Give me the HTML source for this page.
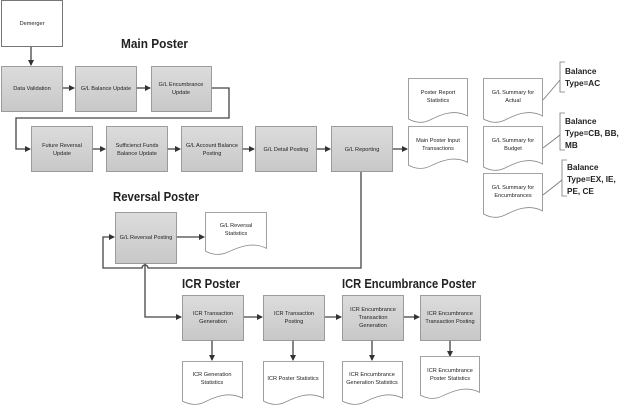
<!DOCTYPE html>
<html><head><meta charset="utf-8"><style>
html,body{margin:0;padding:0;background:#fff;width:624px;height:409px;overflow:hidden}
svg text{font-family:"Liberation Sans",sans-serif;fill:#222}
.t{font-size:5.6px;text-anchor:middle}
.h{font-size:13px;font-weight:bold}
.b{font-size:8.2px;font-weight:bold}
</style></head><body>
<svg width="624" height="409" viewBox="0 0 624 409" xmlns="http://www.w3.org/2000/svg">
<defs>
<linearGradient id="g" x1="0" y1="0" x2="0" y2="1"><stop offset="0" stop-color="#dcdcdc"/><stop offset="1" stop-color="#c8c8c8"/></linearGradient>
<marker id="a" markerWidth="6" markerHeight="6" refX="5" refY="3" orient="auto" markerUnits="userSpaceOnUse"><path d="M0,0 L6,3 L0,6 Z" fill="#333"/></marker>
<symbol id="doc" viewBox="0 0 60 46" preserveAspectRatio="none" overflow="visible"><path d="M0.5,0.5 H59.5 V38 C45,30 30,38 22,42 C14,46 6,44 0.5,41 Z" fill="#fff" stroke="#888" stroke-width="0.8" vector-effect="non-scaling-stroke"/></symbol>
</defs>
<g stroke="#444" stroke-width="1.3" fill="none">
<line x1="31" y1="46" x2="31" y2="65" marker-end="url(#a)"/>
<line x1="62" y1="88" x2="74" y2="88" marker-end="url(#a)"/>
<line x1="136" y1="88" x2="150" y2="88" marker-end="url(#a)"/>
<polyline points="211,88 229,88 229,118 16,118 16,149 30,149" marker-end="url(#a)"/>
<line x1="92" y1="149" x2="105" y2="149" marker-end="url(#a)"/>
<line x1="167" y1="149" x2="180" y2="149" marker-end="url(#a)"/>
<line x1="242" y1="149" x2="254" y2="149" marker-end="url(#a)"/>
<line x1="316" y1="149" x2="330" y2="149" marker-end="url(#a)"/>
<line x1="392" y1="149" x2="407" y2="149" marker-end="url(#a)"/>
<path d="M361,172 V268 H148 A3,3 0 0 0 142,268 H103 V237 H114" marker-end="url(#a)"/>
<line x1="176" y1="237" x2="204" y2="237" marker-end="url(#a)"/>
<polyline points="145,263 145,317 181,317" marker-end="url(#a)"/>
<line x1="243" y1="317" x2="262" y2="317" marker-end="url(#a)"/>
<line x1="324" y1="317" x2="341" y2="317" marker-end="url(#a)"/>
<line x1="403" y1="317" x2="419" y2="317" marker-end="url(#a)"/>
<line x1="212" y1="340" x2="212" y2="360" marker-end="url(#a)"/>
<line x1="293" y1="340" x2="293" y2="360" marker-end="url(#a)"/>
<line x1="372" y1="340" x2="372" y2="360" marker-end="url(#a)"/>
<line x1="450" y1="340" x2="450" y2="356" marker-end="url(#a)"/>
</g>
<g stroke="#777" stroke-width="0.8" fill="none">
<polyline points="565,62 560,62 560,92 565,92"/><line x1="543" y1="100" x2="560" y2="80"/>
<polyline points="565,113 560,113 560,150 565,150"/><line x1="543" y1="148" x2="560" y2="135"/>
<polyline points="567,160 562,160 562,196 567,196"/><line x1="543" y1="195" x2="562" y2="180"/>
</g>
<rect x="1.5" y="0.5" width="61" height="46" fill="#fff" stroke="#777"/>
<text class="t" x="32" y="25">Demerger</text>
<g fill="url(#g)" stroke="#888" stroke-width="0.8">
<rect x="1.5" y="66.5" width="61" height="45"/><rect x="75.5" y="66.5" width="61" height="45"/><rect x="151.5" y="66.5" width="60" height="45"/>
<rect x="31.5" y="126.5" width="61" height="45"/><rect x="106.5" y="126.5" width="61" height="45"/><rect x="181.5" y="126.5" width="61" height="45"/><rect x="255.5" y="126.5" width="61" height="45"/><rect x="331.5" y="126.5" width="61" height="45"/>
<rect x="115.5" y="212.5" width="61" height="51"/>
<rect x="182.5" y="295.5" width="61" height="45"/><rect x="263.5" y="295.5" width="61" height="45"/><rect x="342.5" y="295.5" width="61" height="45"/><rect x="420.5" y="295.5" width="60" height="45"/>
</g>
<use href="#doc" x="408" y="78" width="60" height="46"/>
<use href="#doc" x="408" y="126" width="60" height="44"/>
<use href="#doc" x="483" y="78" width="60" height="46"/>
<use href="#doc" x="483" y="126" width="60" height="46"/>
<use href="#doc" x="483" y="173" width="60" height="46"/>
<use href="#doc" x="205" y="212" width="62" height="44"/>
<use href="#doc" x="182" y="361" width="61" height="45"/>
<use href="#doc" x="263" y="361" width="61" height="45"/>
<use href="#doc" x="342" y="361" width="61" height="45"/>
<use href="#doc" x="420" y="356" width="60" height="44"/>
<text class="h" x="121" y="48" textLength="67" lengthAdjust="spacingAndGlyphs">Main Poster</text>
<text class="h" x="113" y="201" textLength="86" lengthAdjust="spacingAndGlyphs">Reversal Poster</text>
<text class="h" x="182" y="288" textLength="58" lengthAdjust="spacingAndGlyphs">ICR Poster</text>
<text class="h" x="342" y="288" textLength="134" lengthAdjust="spacingAndGlyphs">ICR Encumbrance Poster</text>
<g class="t">
<text class="t" x="32" y="90">Data Validation</text>
<text class="t" x="106" y="90">G/L Balance Update</text>
<text class="t" x="181" y="86">G/L Encumbrance</text><text class="t" x="181" y="94">Update</text>
<text class="t" x="62" y="147">Future Reversal</text><text class="t" x="62" y="155">Update</text>
<text class="t" x="137" y="147">Sufficienct Funds</text><text class="t" x="137" y="155">Balance Update</text>
<text class="t" x="212" y="147">G/L Account Balance</text><text class="t" x="212" y="155">Posting</text>
<text class="t" x="286" y="151">G/L Detail Posting</text>
<text class="t" x="362" y="151">G/L Reporting</text>
<text class="t" x="438" y="94">Poster Report</text><text class="t" x="438" y="102">Statistics</text>
<text class="t" x="438" y="142">Main Poster Input</text><text class="t" x="438" y="150">Transactions</text>
<text class="t" x="513" y="94">G/L Summary for</text><text class="t" x="513" y="102">Actual</text>
<text class="t" x="513" y="142">G/L Summary for</text><text class="t" x="513" y="150">Budget</text>
<text class="t" x="513" y="189">G/L Summary for</text><text class="t" x="513" y="197">Encumbrances</text>
<text class="t" x="146" y="239">G/L Reversal Posting</text>
<text class="t" x="236" y="227">G/L Reversal</text><text class="t" x="236" y="235">Statistics</text>
<text class="t" x="213" y="315">ICR Transaction</text><text class="t" x="213" y="323">Generation</text>
<text class="t" x="294" y="315">ICR Transaction</text><text class="t" x="294" y="323">Posting</text>
<text class="t" x="373" y="311">ICR Encumbrance</text><text class="t" x="373" y="319">Transaction</text><text class="t" x="373" y="327">Generation</text>
<text class="t" x="450" y="315">ICR Encumbrance</text><text class="t" x="450" y="323">Transaction Posting</text>
<text class="t" x="212" y="376">ICR Generation</text><text class="t" x="212" y="384">Statistics</text>
<text class="t" x="293" y="380">ICR Poster Statistics</text>
<text class="t" x="372" y="376">ICR Encumbrance</text><text class="t" x="372" y="384">Generation Statistics</text>
<text class="t" x="450" y="372">ICR Encumbrance</text><text class="t" x="450" y="380">Poster Statistics</text>
</g>
<text class="b" x="565" y="74">Balance</text><text class="b" x="565" y="86">Type=AC</text>
<text class="b" x="565" y="124">Balance</text><text class="b" x="565" y="136">Type=CB, BB,</text><text class="b" x="565" y="148">MB</text>
<text class="b" x="567" y="170">Balance</text><text class="b" x="567" y="182">Type=EX, IE,</text><text class="b" x="567" y="194">PE, CE</text>
</svg>
</body></html>
